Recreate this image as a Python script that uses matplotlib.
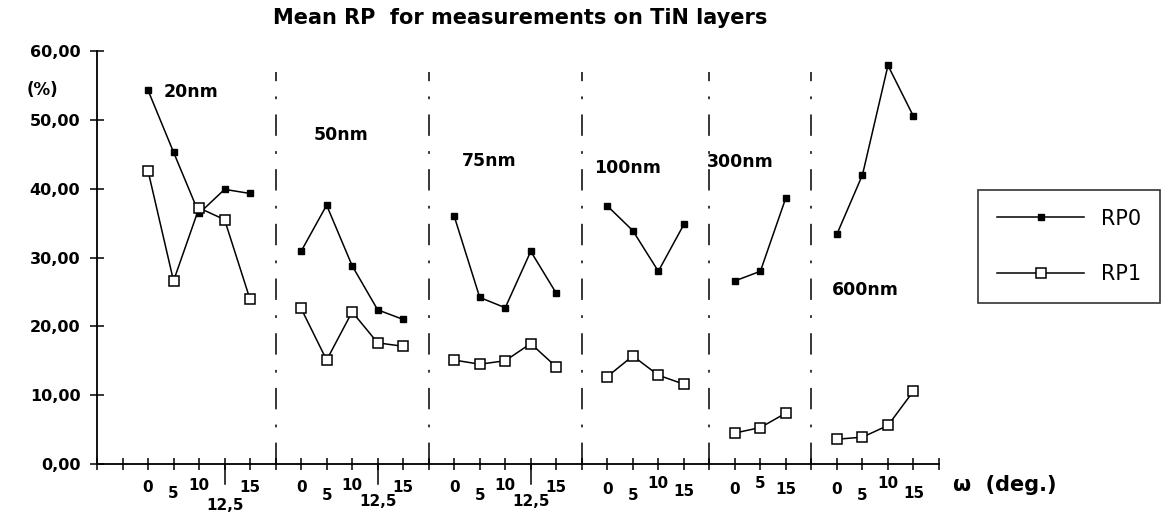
import matplotlib
matplotlib.use("Agg")
import matplotlib.pyplot as plt
import numpy as np
from matplotlib.lines import Line2D

# layer thickness groups and the measuring angles (deg.) in each group
layers = ["20nm", "50nm", "75nm", "100nm", "300nm", "600nm"]
angles = [
    [0, 5, 10, 12.5, 15],
    [0, 5, 10, 12.5, 15],
    [0, 5, 10, 12.5, 15],
    [0, 5, 10, 15],
    [0, 5, 15],
    [0, 5, 10, 15],
]

# mean RP values (%)
rp0 = [
    [54.3, 45.3, 36.4, 39.9, 39.3],
    [30.9, 37.6, 28.8, 22.4, 21.0],
    [36.0, 24.2, 22.7, 30.9, 24.8],
    [37.5, 33.9, 28.0, 34.8],
    [26.6, 28.0, 38.7],
    [33.4, 42.0, 57.9, 50.5],
]
rp1 = [
    [42.6, 26.6, 37.2, 35.5, 23.9],
    [22.6, 15.1, 22.1, 17.6, 17.1],
    [15.1, 14.5, 15.0, 17.5, 14.1],
    [12.7, 15.7, 12.9, 11.6],
    [4.5, 5.3, 7.4],
    [3.6, 3.9, 5.6, 10.6],
]

# layout only: where the group names sit (x in category units, y in %)
name_pos = [(2.6, 54.1), (8.5, 47.8), (14.3, 44.0), (19.5, 43.0), (23.9, 43.9), (28.8, 25.3)]
# how far (px) each angle label hangs below the axis
drops = [[24, 30, 21, 41, 24], [23, 31, 22, 38, 24], [23, 31, 21, 38, 24],
         [25, 31, 19, 28], [25, 19, 25], [25, 31, 20, 29]]

plt.rcParams['font.family'] = ['DejaVu Sans']

W, H = 1167, 518
fig = plt.figure(figsize=(W / 100, H / 100), dpi=100)
ax = fig.add_axes([97 / W, 54 / H, 842 / W, 413 / H])

lw = 1.1
pos = 2
seps = []
for i in range(len(layers)):
    n = len(angles[i])
    xs = np.arange(pos, pos + n)
    ax.plot(xs, rp0[i], color="black", lw=lw, marker="s", ms=5,
            mfc="black", mec="black", clip_on=False)
    ax.plot(xs, rp1[i], color="black", lw=lw, marker="s", ms=6.5,
            mfc="white", mec="black", mew=1.1, clip_on=False)
    # angle labels under the axis
    for x, a, d in zip(xs, angles[i], drops[i]):
        txt = f"{a:g}".replace(".", ",")
        ax.annotate(txt, xy=(x, 0), xycoords=ax.get_xaxis_transform(),
                    xytext=(0, -d * 0.72), textcoords="offset points",
                    ha="center", va="center", fontsize=11, fontweight="bold")
        if a == 12.5:
            ax.plot([x, x], [0, -20 / 413], color="black", lw=1.1,
                    transform=ax.get_xaxis_transform(), clip_on=False)
    ax.text(name_pos[i][0], name_pos[i][1], layers[i], fontsize=12.5,
            fontweight="bold", va="center", ha="left")
    seps.append(pos + n)
    pos += n + 1

# dash-dot separators between groups (last one is the axis end)
for s in seps[:-1]:
    ax.axvline(s, ymin=0, ymax=57 / 60, color="black", lw=1.1,
               linestyle=(0, (14, 10, 1.8, 10)))

ax.set_xlim(0, seps[-1])
ax.set_ylim(0, 60)
ax.set_xticks(np.arange(0, seps[-1] + 1))
ax.set_yticks(np.arange(0, 61, 10))
ax.set_yticklabels([f"{v:.2f}".replace(".", ",") for v in np.arange(0, 61, 10)],
                   fontsize=11.5, fontweight="bold")
ax.tick_params(axis="x", direction="inout", length=8, width=1.1, labelbottom=False)
ax.tick_params(axis="y", direction="inout", length=10, width=1.1, pad=7)

for side in ["top", "right"]:
    ax.spines[side].set_visible(False)
for side in ["left", "bottom"]:
    ax.spines[side].set_linewidth(1.3)

# title and axis captions
fig.text(520 / W, 1 - 18 / H, "Mean RP  for measurements on TiN layers",
         ha="center", va="center", fontsize=15, fontweight="bold")
fig.text(42 / W, 1 - 90 / H, "(%)", ha="center", va="center",
         fontsize=12, fontweight="bold")
fig.text(953 / W, 1 - 485 / H, "ω  (deg.)", ha="left", va="center",
         fontsize=15, fontweight="bold")

# legend
handles = [
    Line2D([], [], color="black", lw=lw, marker="s", ms=5, mfc="black"),
    Line2D([], [], color="black", lw=lw, marker="s", ms=6.5, mfc="white", mew=1.1),
]
leg = ax.legend(handles, ["RP0", "RP1"], loc="upper left",
                bbox_to_anchor=(978 / W, 1 - 190 / H), bbox_transform=fig.transFigure,
                borderaxespad=0, frameon=True, fancybox=False, edgecolor="black",
                fontsize=15, handlelength=4.2, handletextpad=0.8,
                labelspacing=1.7, borderpad=0.9, markerscale=1)
leg.get_frame().set_linewidth(1.2)

plt.savefig("out.png", dpi=100)
